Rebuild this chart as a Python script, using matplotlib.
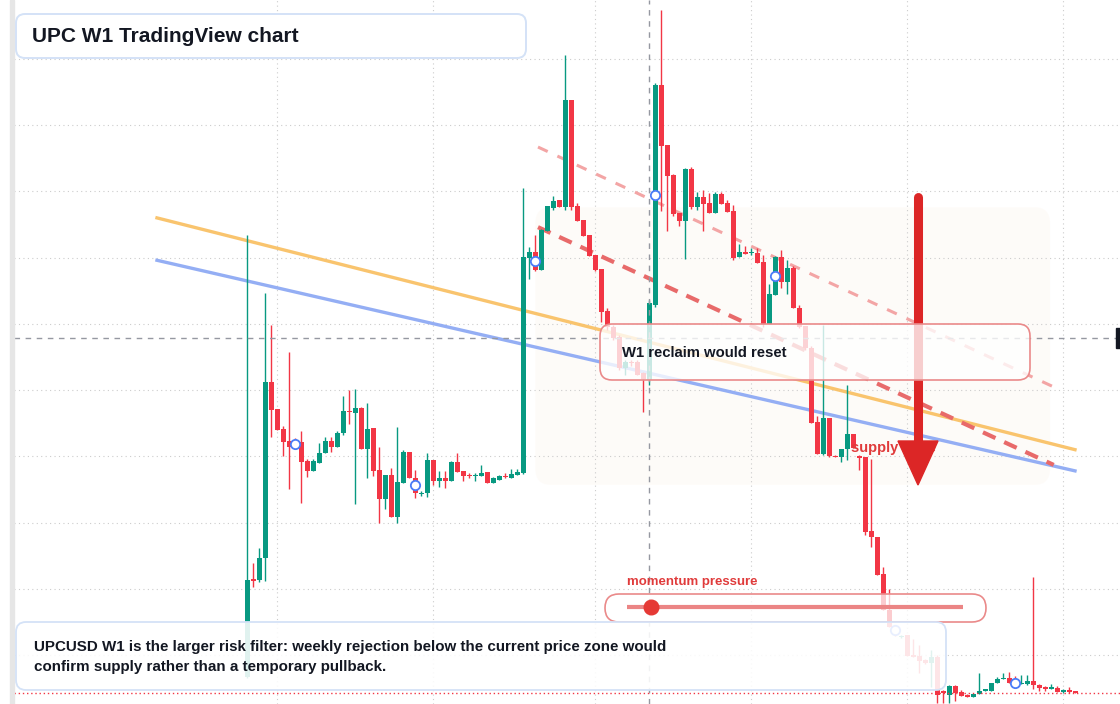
import matplotlib
matplotlib.use("Agg")
import matplotlib.pyplot as plt
from matplotlib.patches import FancyBboxPatch, Rectangle, Polygon
import numpy as np

plt.rcParams['font.family'] = ['Liberation Sans', 'DejaVu Sans']

# weekly candles (price in chart units)
opens = [6.7, 21.5, 21.3, 24.6, 51.2, 47.1, 44.1, 42.3, 42.2, 42.2,
         39.3, 37.8, 39.0, 40.5, 42.3, 41.4, 43.5, 46.8, 46.5, 47.3,
         41.1, 44.3, 37.9, 33.6, 37.2, 30.8, 36.0, 40.7, 36.7, 34.3,
         34.5, 39.4, 36.3, 36.7, 36.3, 39.1, 37.8, 37.2, 37.0, 37.0,
         37.6, 36.0, 36.4, 37.0, 36.7, 37.2, 37.5, 69.9, 70.9, 68.1,
         74.0, 77.5, 78.7, 77.6, 93.8, 77.8, 75.7, 73.4, 70.4, 68.3,
         61.9, 59.5, 58.0, 53.3, 54.2, 54.2, 52.6, 51.5, 62.9, 96.1,
         87.0, 82.5, 76.7, 75.5, 83.4, 77.6, 79.2, 78.3, 76.7, 79.6,
         78.3, 77.0, 70.1, 70.9, 70.7, 70.7, 69.3, 60.0, 64.4, 70.1,
         66.3, 68.4, 62.4, 59.7, 56.4, 45.2, 40.4, 45.8, 40.0, 39.9,
         41.1, 43.4, 40.0, 39.9, 28.7, 27.8, 22.2, 16.8, 14.1, 12.7,
         13.0, 10.0, 9.8, 9.2, 8.8, 9.7, 4.4, 4.0, 5.3, 4.4,
         4.0, 3.7, 4.1, 4.6, 4.6, 5.8, 6.4, 6.5, 5.9, 5.6,
         5.6, 6.1, 5.5, 5.0, 4.9, 5.0, 4.4, 4.7, 4.4]
highs = [73.4, 23.9, 26.2, 64.7, 59.8, 47.1, 44.6, 55.8, 42.8, 43.8,
         39.6, 39.6, 42.0, 42.9, 42.9, 43.8, 49.1, 50.0, 50.2, 47.4,
         48.1, 44.3, 41.4, 37.2, 38.2, 44.4, 41.0, 40.7, 37.9, 34.8,
         40.5, 39.4, 37.8, 37.8, 39.3, 40.5, 37.8, 37.5, 37.5, 38.7,
         37.6, 36.9, 37.2, 37.5, 38.1, 38.1, 80.5, 71.6, 73.4, 74.3,
         77.8, 79.3, 78.7, 100.6, 93.8, 78.3, 75.7, 73.4, 70.4, 68.3,
         62.4, 59.8, 58.3, 54.5, 54.5, 54.5, 52.7, 63.6, 96.4, 107.4,
         87.0, 82.6, 76.7, 83.5, 83.7, 79.9, 80.2, 79.8, 79.9, 79.9,
         78.7, 77.9, 72.1, 71.8, 71.5, 71.5, 70.4, 66.0, 70.2, 71.2,
         69.6, 68.7, 62.9, 59.7, 56.7, 46.1, 59.8, 45.8, 40.2, 41.1,
         50.8, 43.4, 40.2, 39.9, 39.6, 27.8, 23.3, 20.0, 14.4, 13.0,
         13.0, 12.4, 11.5, 9.4, 10.8, 10.0, 4.7, 5.5, 5.5, 4.7,
         4.1, 4.1, 7.3, 4.7, 5.8, 6.7, 7.3, 7.4, 6.8, 7.0,
         7.0, 21.8, 5.6, 5.3, 5.6, 5.3, 4.9, 5.2, 4.4]
lows = [6.5, 20.3, 21.0, 21.2, 42.9, 44.0, 40.0, 35.1, 41.3, 33.0,
        36.9, 37.8, 39.0, 40.5, 40.7, 41.4, 43.2, 44.9, 32.8, 41.1,
        36.7, 37.0, 29.9, 32.0, 30.8, 29.9, 36.0, 36.7, 33.7, 34.0,
        33.9, 35.7, 35.4, 35.2, 36.3, 37.6, 36.3, 36.7, 36.3, 37.0,
        36.0, 36.0, 36.4, 36.7, 36.7, 37.2, 37.3, 66.8, 68.0, 68.1,
        74.0, 77.2, 77.6, 77.2, 77.2, 75.5, 73.3, 70.2, 68.0, 60.3,
        59.1, 57.6, 53.0, 52.3, 53.6, 52.3, 46.7, 50.8, 62.5, 77.0,
        74.0, 76.3, 74.8, 69.8, 77.3, 77.2, 74.0, 76.7, 76.7, 78.1,
        76.9, 69.6, 70.1, 70.6, 70.4, 69.2, 59.5, 60.0, 64.4, 65.4,
        64.5, 62.4, 59.4, 56.1, 45.0, 40.4, 40.2, 39.9, 39.9, 39.1,
        39.4, 41.3, 37.9, 28.1, 26.3, 22.1, 16.8, 14.2, 12.9, 12.6,
        9.8, 9.7, 7.3, 8.6, 5.2, 2.8, 2.8, 2.8, 3.1, 3.8,
        3.7, 3.7, 4.1, 4.6, 4.6, 5.8, 6.4, 5.8, 5.3, 5.6,
        5.5, 4.9, 4.6, 4.6, 4.9, 4.4, 4.3, 4.3, 4.3]
closes = [21.3, 21.2, 24.6, 51.2, 47.0, 44.0, 42.2, 41.4, 41.6, 39.1,
          37.8, 39.3, 40.5, 42.3, 41.4, 43.5, 46.8, 46.7, 47.3, 41.1,
          44.1, 37.8, 33.6, 37.2, 30.8, 36.1, 40.7, 36.7, 34.5, 34.5,
          39.4, 36.3, 36.7, 36.3, 39.1, 37.6, 37.0, 37.0, 37.2, 37.5,
          36.0, 36.7, 37.0, 36.9, 37.3, 37.6, 70.1, 70.9, 68.1, 74.2,
          77.8, 78.6, 77.6, 93.8, 77.6, 75.5, 73.3, 70.2, 68.1, 61.8,
          59.5, 57.9, 53.3, 54.2, 54.1, 52.3, 51.7, 63.2, 96.1, 86.9,
          82.3, 76.6, 75.5, 83.4, 77.6, 79.2, 78.1, 76.7, 79.6, 78.1,
          76.9, 69.9, 70.9, 70.6, 70.9, 69.2, 60.0, 64.5, 70.1, 66.3,
          68.4, 62.4, 59.5, 56.4, 45.0, 40.4, 45.8, 40.0, 39.9, 41.1,
          43.4, 41.3, 39.7, 28.6, 27.8, 22.1, 16.8, 14.2, 13.3, 12.9,
          9.8, 9.7, 9.1, 8.8, 9.7, 4.0, 4.3, 5.3, 4.3, 3.8,
          3.7, 4.1, 4.6, 4.7, 5.8, 6.4, 6.5, 5.8, 5.5, 5.8,
          6.1, 5.5, 5.0, 4.9, 5.0, 4.4, 4.7, 4.4, 4.3]

marker_idx = [8, 28, 48, 68, 88, 108, 128]
week_grid = [5, 31, 58, 84, 110, 136]
price_grid = [10, 20, 30, 40, 50, 60, 70, 80, 90, 100]

# trendlines: (bar index start, end) and (price start, end)
orange_x, orange_y = [-15.05, 137.95], [76.0, 41.0]
blue_x, blue_y = [-15.05, 137.95], [69.6, 37.8]
upper_dash_x, upper_dash_y = [48.45, 134.1], [86.7, 50.6]
lower_dash_x, lower_dash_y = [48.45, 134.4], [74.6, 38.7]
zone_idx = (48.0, 133.8)
zone_price = (35.7, 77.6)
crosshair_idx, crosshair_price = 67, 57.9
momentum_level = 0.07

GREEN = '#089981'
RED = '#f23645'
INK = '#131722'
LABEL_RED = '#e03b3b'

fig = plt.figure(figsize=(11.2, 7.04), dpi=100)
ax = fig.add_axes([14 / 1120, 0, 1106 / 1120, 1])
ax.set_xlim(-38.88, 145.45)
ax.set_ylim(2.6, 108.9)
ax.set_xticks(week_grid)
ax.set_yticks(price_grid)
ax.grid(True, linestyle=(0, (1, 3)), color='#cccccc', linewidth=0.8)
ax.tick_params(length=0, labelbottom=False, labelleft=False)
for s in ax.spines.values():
    s.set_visible(False)

o = np.array(opens)
h = np.array(highs)
l = np.array(lows)
c = np.array(closes)
x = np.arange(len(o))
colors = np.where(c >= o, GREEN, RED)

# supply zone
ax.add_patch(FancyBboxPatch((zone_idx[0], zone_price[0]), zone_idx[1] - zone_idx[0],
                            zone_price[1] - zone_price[0],
                            boxstyle='round,pad=0,rounding_size=2.5',
                            facecolor='#fbf0e4', edgecolor='none', alpha=0.25, zorder=1))

ax.plot(orange_x, orange_y, color='#f9c166', lw=2.4, alpha=0.95, zorder=2)
ax.plot(blue_x, blue_y, color='#8eaaf4', lw=2.4, alpha=0.95, zorder=2)
ax.plot(upper_dash_x, upper_dash_y, color='#f3a5a5', lw=2.2, dashes=(3.5, 3.5), zorder=2)
ax.plot(lower_dash_x, lower_dash_y, color='#e86a6a', lw=3, dashes=(3.3, 2.3), zorder=2)

ax.vlines(x, l, h, colors=colors, lw=1, zorder=3)
body = np.maximum(np.abs(c - o), 0.2)
ax.bar(x, body, bottom=np.minimum(o, c), width=0.8, color=colors, zorder=3)

mids = [(o[i] + c[i]) / 2 for i in marker_idx]
ax.scatter(marker_idx, mids, s=45, facecolor='white', edgecolor='#4a7cf7', lw=1.3, zorder=4)

ax.axvline(crosshair_idx, color='#9598a1', lw=1, dashes=(4, 4), zorder=4)
ax.axhline(crosshair_price, color='#9598a1', lw=1, dashes=(4, 4), zorder=4)
ax.axhline(closes[-1], color=RED, lw=1, linestyle=(0, (1, 2)), zorder=4)

# overlay in pixel space for annotations
ov = fig.add_axes([0, 0, 1, 1])
ov.set_xlim(0, 1120)
ov.set_ylim(704, 0)
ov.axis('off')
ov.patch.set_alpha(0)

ov.add_patch(Rectangle((10, 0), 4, 704, color='#e6e6e6', zorder=1))
ov.add_patch(Rectangle((1116, 328), 6, 20, color=INK, zorder=1))

ov.text(851, 448, 'supply zone', color=LABEL_RED, fontsize=10.5, fontweight='bold',
        va='center', ha='left', zorder=3)
ov.plot([918, 918], [197, 445], color='#dc2626', lw=6.5, solid_capstyle='round', zorder=4)
ov.add_patch(Polygon([(898, 441), (938, 441), (918, 485)], closed=True,
                     color='#dc2626', zorder=4))

ov.add_patch(FancyBboxPatch((600, 324), 430, 56, boxstyle='round,pad=0,rounding_size=12',
                            facecolor='white', alpha=0.78, edgecolor='none', zorder=5))
ov.add_patch(FancyBboxPatch((600, 324), 430, 56, boxstyle='round,pad=0,rounding_size=12',
                            facecolor='none', edgecolor='#ea8a8a', lw=1.2, zorder=5))
ov.text(622, 353, 'W1 reclaim would reset', color=INK, fontsize=10.7, fontweight='bold',
        va='center', ha='left', zorder=7)

ov.add_patch(FancyBboxPatch((605, 594), 381, 28, boxstyle='round,pad=0,rounding_size=14',
                            facecolor='white', alpha=0.75, edgecolor='none', zorder=5))
ov.add_patch(FancyBboxPatch((605, 594), 381, 28, boxstyle='round,pad=0,rounding_size=14',
                            facecolor='none', edgecolor='#ea8a8a', lw=1.2, zorder=5))
track = (627, 963)
ov.plot(track, [607, 607], color='#eb8585', lw=3, solid_capstyle='butt', zorder=6)
ov.plot([track[0] + momentum_level * (track[1] - track[0])], [607], 'o', color='#e53935',
        markersize=10.5, zorder=7)
ov.text(627, 582, 'momentum pressure', color=LABEL_RED, fontsize=9.5, fontweight='bold',
        va='center', ha='left', zorder=7)

ov.add_patch(FancyBboxPatch((16, 622), 930, 68, boxstyle='round,pad=0,rounding_size=10',
                            facecolor='white', alpha=0.88, edgecolor='none', zorder=5))
ov.add_patch(FancyBboxPatch((16, 622), 930, 68, boxstyle='round,pad=0,rounding_size=10',
                            facecolor='none', edgecolor='#d4e2f7', lw=1.3, zorder=5))
ov.text(34, 647, 'UPCUSD W1 is the larger risk filter: weekly rejection below the current price zone would',
        color=INK, fontsize=10.9, fontweight='bold', va='center', ha='left', zorder=7)
ov.text(34, 667, 'confirm supply rather than a temporary pullback.',
        color=INK, fontsize=10.9, fontweight='bold', va='center', ha='left', zorder=7)

ov.add_patch(FancyBboxPatch((16, 14), 510, 44, boxstyle='round,pad=0,rounding_size=9',
                            facecolor='white', edgecolor='#d4e2f7', lw=1.4, zorder=6))
ov.text(32, 36, 'UPC W1 TradingView chart', color=INK, fontsize=15, fontweight='bold',
        va='center', ha='left', zorder=7)

fig.savefig('out.png', dpi=100)
plt.close(fig)
